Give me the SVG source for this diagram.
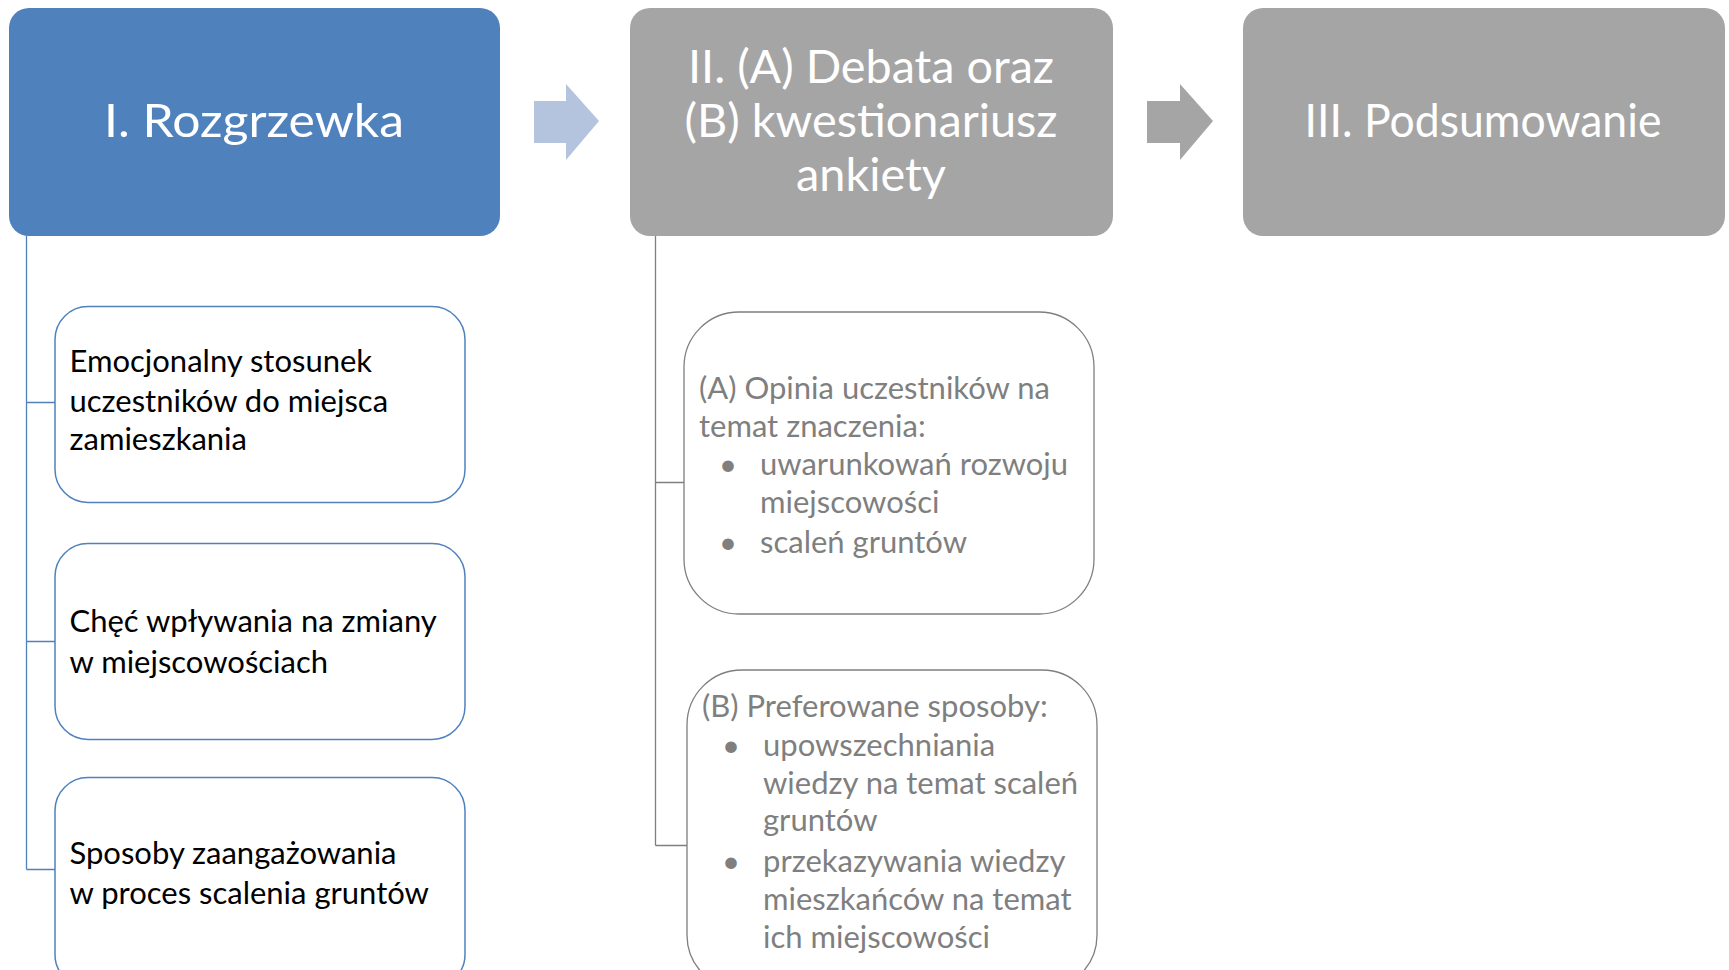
<svg xmlns="http://www.w3.org/2000/svg" width="1729" height="970" viewBox="0 0 1729 970">
<style>
.t{font-family:Lato,"Open Sans","Liberation Sans",sans-serif}
.head{font-size:47px;fill:#fff;text-anchor:middle}
.blk{font-size:31px;fill:#000}
.gry{font-size:31px;fill:#7f7f7f}
.cb{fill:#fff;stroke:#4f81bd;stroke-width:1.5}
.cg{fill:#fff;stroke:#7f7f7f;stroke-width:1.3}
.lb{stroke:#4f81bd;stroke-width:1.3;fill:none}
.lg{stroke:#7f7f7f;stroke-width:1.3;fill:none}
</style>
<rect width="1729" height="970" fill="#fff"/>
<g id="connectors">
<path class="lb" d="M26.5 236V869.5M26.5 402.5H55M26.5 641.5H55M26.5 869.5H55"/>
<path class="lg" d="M655.5 236V845.5M655.5 482.5H684M655.5 845.5H687"/>
<polygon points="534,101 566,101 566,84 599,121 566,160 566,143 534,143" fill="#b4c3de"/>
<polygon points="1147,101 1180,101 1180,84 1213,121 1180,160 1180,143 1147,143" fill="#a5a5a5"/>
</g>
<g id="n1">
<rect x="9" y="8" width="491" height="228" rx="20" fill="#4f81bd"/>
<text class="t head" x="254" y="137" textLength="300" lengthAdjust="spacingAndGlyphs">I. Rozgrzewka</text>
</g>
<g id="n2">
<rect x="630" y="8" width="483" height="228" rx="20" fill="#a5a5a5"/>
<text class="t head" x="871" y="83" textLength="366" lengthAdjust="spacingAndGlyphs">II. (A) Debata oraz</text>
<text class="t head" x="871" y="137" textLength="373" lengthAdjust="spacingAndGlyphs">(B) kwestionariusz</text>
<text class="t head" x="871" y="191" textLength="150" lengthAdjust="spacingAndGlyphs">ankiety</text>
</g>
<g id="n3">
<rect x="1243" y="8" width="482" height="228" rx="20" fill="#a5a5a5"/>
<text class="t head" x="1483" y="137" textLength="357" lengthAdjust="spacingAndGlyphs">III. Podsumowanie</text>
</g>
<g id="c1">
<rect class="cb" x="55" y="306.5" width="410" height="196" rx="33"/>
<text class="t blk" x="69.5" y="372">Emocjonalny stosunek</text>
<text class="t blk" x="69.5" y="412">uczestników do miejsca</text>
<text class="t blk" x="69.5" y="450">zamieszkania</text>
</g>
<g id="c2">
<rect class="cb" x="55" y="543.5" width="410" height="196" rx="33"/>
<text class="t blk" x="69.5" y="632">Chęć wpływania na zmiany</text>
<text class="t blk" x="69.5" y="673">w miejscowościach</text>
</g>
<g id="c3">
<rect class="cb" x="55" y="777.5" width="410" height="210" rx="33"/>
<text class="t blk" x="69.5" y="864">Sposoby zaangażowania</text>
<text class="t blk" x="69.5" y="904">w proces scalenia gruntów</text>
</g>
<g id="cA">
<rect class="cg" x="684" y="312" width="410" height="302" rx="55"/>
<text class="t gry" x="699" y="399">(A) Opinia uczestników na</text>
<text class="t gry" x="699" y="437">temat znaczenia:</text>
<text class="t gry" x="719" y="475">•</text>
<text class="t gry" x="760" y="475">uwarunkowań rozwoju</text>
<text class="t gry" x="760" y="513">miejscowości</text>
<text class="t gry" x="719" y="553">•</text>
<text class="t gry" x="760" y="553">scaleń gruntów</text>
</g>
<g id="cB">
<rect class="cg" x="687" y="670" width="410" height="320" rx="55"/>
<text class="t gry" x="702" y="717">(B) Preferowane sposoby:</text>
<text class="t gry" x="722" y="756">•</text>
<text class="t gry" x="763" y="756">upowszechniania</text>
<text class="t gry" x="763" y="794">wiedzy na temat scaleń</text>
<text class="t gry" x="763" y="831">gruntów</text>
<text class="t gry" x="722" y="872">•</text>
<text class="t gry" x="763" y="872">przekazywania wiedzy</text>
<text class="t gry" x="763" y="910">mieszkańców na temat</text>
<text class="t gry" x="763" y="948">ich miejscowości</text>
</g>
</svg>
